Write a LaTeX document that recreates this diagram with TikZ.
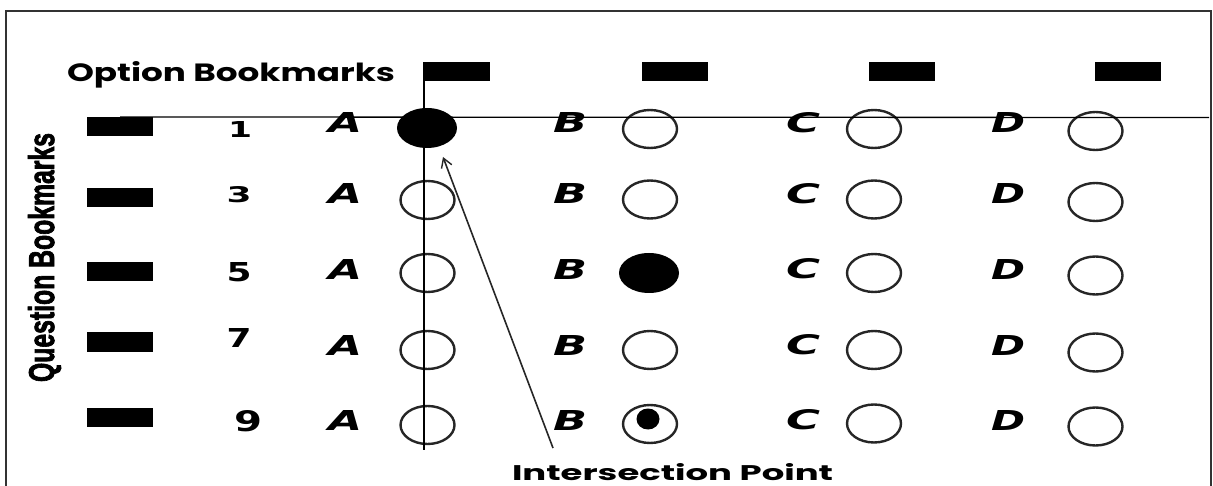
\documentclass[tikz,border=0pt]{standalone}
\usepackage{fontspec}
\usepackage{graphicx}
\setmainfont{DejaVu Sans}
\newfontfamily\popf{Poppins}
\newfontfamily\libf{Liberation Sans}[BoldFeatures={FakeBold=2.5}]
\usetikzlibrary{arrows.meta,shapes.geometric}
\newcommand\optlet[1]{\resizebox{34pt}{20pt}{\bfseries\itshape #1}}
\newcommand\qnum[3]{\resizebox{#1pt}{#2pt}{\bfseries #3}}
\begin{document}
\begin{tikzpicture}[x=1pt,y=-1pt,
  bmark/.style={fill=black, minimum width=66pt, minimum height=19pt, inner sep=0pt, outer sep=0pt},
  bubble/.style={ellipse, draw=black!85, line width=2.4pt, minimum width=54pt, minimum height=38pt, inner sep=0pt},
  filled/.style={ellipse, fill=black, minimum width=60pt, minimum height=40pt, inner sep=0pt},
  dotin/.style={ellipse, fill=black, minimum width=23pt, minimum height=21pt, inner sep=0pt},
  txt/.style={inner sep=0pt, outer sep=0pt},
  frameline/.style={draw=black!80, line width=2.2pt},
  guide/.style={draw=black, line width=1.3pt},
  pointer/.style={draw=black!85, line width=1.6pt, -{Straight Barb[length=9pt,width=11pt,line width=1.4pt]}}]
\useasboundingbox (0,0) rectangle (1213,486);
\fill[white] (0,0) rectangle (1213,486);
% frame
\draw[frameline] (6,490) -- (6,11) -- (1211,11) -- (1211,490);
% option bookmarks
\node[txt, anchor=base west] (optlbl) at (67,82) {\resizebox{328pt}{20pt}{\popf\bfseries Option Bookmarks}};
\node[bmark] (ob1) at (457,72) {};
\node[bmark] (ob2) at (674.5,72) {};
\node[bmark] (ob3) at (901.5,72) {};
\node[bmark] (ob4) at (1127.5,72) {};
% question bookmarks
\node[txt, rotate=90, anchor=base west] (qlbl) at (54,382) {\resizebox{249pt}{26pt}{\libf\bfseries Question Bookmarks}};
\node[bmark] (qb1) at (120,126.5) {};
\node[bmark] (qb3) at (120,197.5) {};
\node[bmark] (qb5) at (120,272) {};
\node[bmark] (qb7) at (120,342) {};
\node[bmark] (qb9) at (120,417.5) {};
% numbers
\node[txt, anchor=base] (n1) at (240,138) {\qnum{24}{16}{1}};
\node[txt, anchor=base] (n3) at (239,203) {\qnum{25}{16}{3}};
\node[txt, anchor=base] (n5) at (239,282) {\qnum{25}{19}{5}};
\node[txt, anchor=base] (n7) at (239,348) {\qnum{25}{19}{7}};
\node[txt, anchor=base] (n9) at (248,431) {\qnum{28}{21}{9}};
% option letters
\foreach \r/\y in {1/123,3/194,5/269,7/345,9/420}{
  \node[txt] (la\r) at (345,\y) {\optlet{A}};
  \node[txt] (lb\r) at (570,\y) {\optlet{B}};
  \node[txt] (lc\r) at (803,\y) {\optlet{C}};
  \node[txt] (ld\r) at (1008,\y) {\optlet{D}};
}
% bubbles
\node[filled] (ba1) at (427,128) {};
\node[bubble] (ba3) at (427.5,200) {};
\node[bubble] (ba5) at (427.5,273) {};
\node[bubble] (ba7) at (427.5,350) {};
\node[bubble] (ba9) at (427.5,425) {};
\node[bubble] (bb1) at (650,129) {};
\node[bubble] (bb3) at (650,199.5) {};
\node[filled] (bb5) at (649,273) {};
\node[bubble] (bb7) at (650,350) {};
\node[bubble] (bb9) at (650,424) {};
\node[dotin] (bb9dot) at (648,419) {};
\node[bubble] (bc1) at (874,129) {};
\node[bubble] (bc3) at (874,199.5) {};
\node[bubble] (bc5) at (874,273) {};
\node[bubble] (bc7) at (874,350) {};
\node[bubble] (bc9) at (874,423.5) {};
\node[bubble] (bd1) at (1095.5,131) {};
\node[bubble] (bd3) at (1095.5,202) {};
\node[bubble] (bd5) at (1095.5,275.5) {};
\node[bubble] (bd7) at (1095.5,352.5) {};
\node[bubble] (bd9) at (1095.5,426.5) {};
% guide lines
\coordinate (vend) at (424,450);
\coordinate (hend) at (1209,117.5);
\draw[guide] (ob1.north west) -- (vend);
\draw[guide] (qb1.north) -- (hend);
% intersection label and pointer
\node[txt, anchor=base west] (iplbl) at (512,480) {\resizebox{321pt}{17pt}{\popf\bfseries Intersection Point}};
\coordinate (ptrstart) at (553,448);
\coordinate (ptrtip) at (443,157);
\draw[pointer] (ptrstart) -- (ptrtip);
\end{tikzpicture}
\end{document}
